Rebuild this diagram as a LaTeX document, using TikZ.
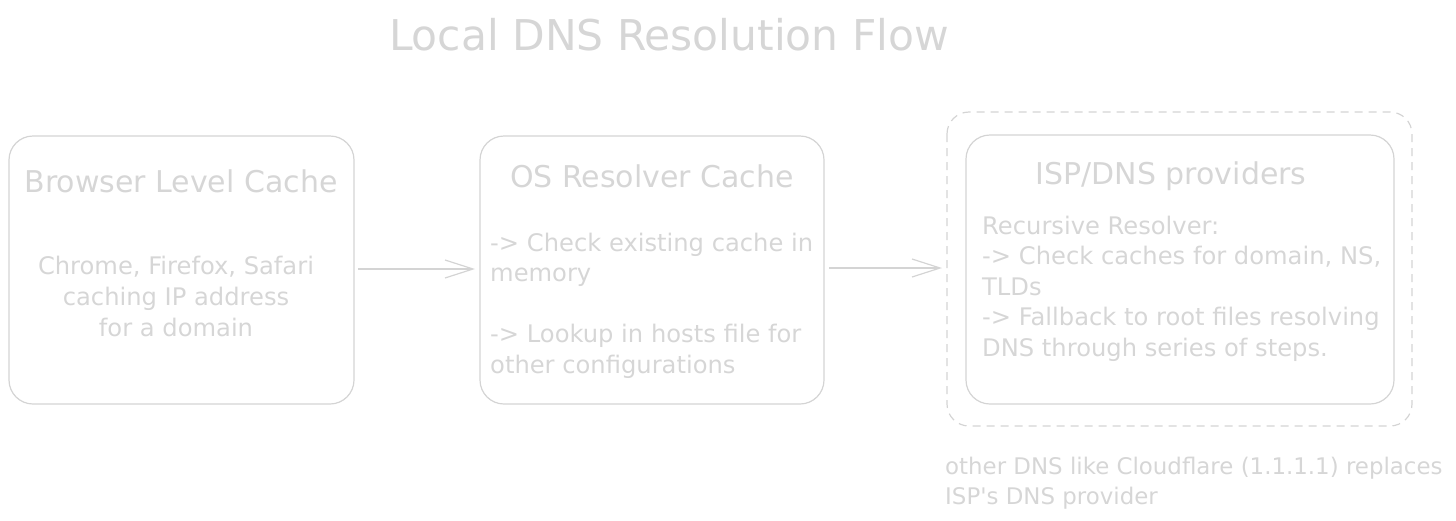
\documentclass[tikz,border=0pt]{standalone}
\usepackage{fontspec}
\setmainfont{DejaVu Sans}
\usetikzlibrary{arrows.meta}
\definecolor{ink}{HTML}{D4D4D4}
\definecolor{txt}{HTML}{D6D6D6}
\tikzset{
  boxstyle/.style={draw=ink, line width=1.2pt, rounded corners=24pt},
  outerbox/.style={draw=ink, line width=1.2pt, rounded corners=22pt, dash pattern=on 8pt off 6pt},
  ttl/.style={text=txt, inner sep=0pt, font=\fontsize{42.4}{50}\selectfont},
  hd/.style={text=txt, inner sep=0pt, font=\fontsize{30}{36}\selectfont},
  bd/.style={text=txt, inner sep=0pt, font=\fontsize{24.2}{30.5}\selectfont},
  nt/.style={text=txt, inner sep=0pt, font=\fontsize{22.9}{29.5}\selectfont},
  flow/.style={draw=ink, line width=1.2pt, -{Straight Barb[length=28pt,width=18pt,line width=1.2pt]}}
}
\begin{document}
\begin{tikzpicture}[x=1pt,y=-1pt]
\useasboundingbox (0,0) rectangle (1456,520);
% title
\node[ttl] (title) at (669,35) {Local DNS Resolution Flow};
% boxes
\draw[boxstyle] (9,136) rectangle (354,404);
\coordinate (b1e) at (354,269);
\draw[boxstyle] (480,136) rectangle (824,404);
\coordinate (b2w) at (480,269);
\coordinate (b2e) at (824,268);
\draw[outerbox] (947,112) rectangle (1412,426);
\coordinate (ow) at (947,268);
\draw[boxstyle] (966,135) rectangle (1394,404);
% headings
\node[hd] (h1) at (181,181) {Browser Level Cache};
\node[hd] (h2) at (652,176) {OS Resolver Cache};
\node[hd] (h3) at (1171,176) {ISP/DNS providers};
% bodies
\node[bd, align=center] (t1) at (176,296) {Chrome, Firefox, Safari\\[0.5pt]caching IP address\\[0.5pt]for a domain};
\node[bd, align=left, anchor=north west] (t2) at (490,232.5) {-> Check existing cache in\\memory\\[30.5pt]-> Lookup in hosts file for\\other configurations};
\node[bd, align=left, anchor=north west] (t3) at (982,215.5) {Recursive Resolver:\\-> Check caches for domain, NS,\\TLDs\\-> Fallback to root files resolving\\DNS through series of steps.};
\node[nt, align=left, anchor=north west] (note) at (945,457) {other DNS like Cloudflare (1.1.1.1) replaces\\ISP\textquotesingle s DNS provider};
% arrows
\draw[flow] ([xshift=4pt]b1e) -- ([xshift=-5pt]b2w);
\draw[flow] ([xshift=5pt]b2e) -- ([xshift=-5pt]ow);
\end{tikzpicture}
\end{document}
